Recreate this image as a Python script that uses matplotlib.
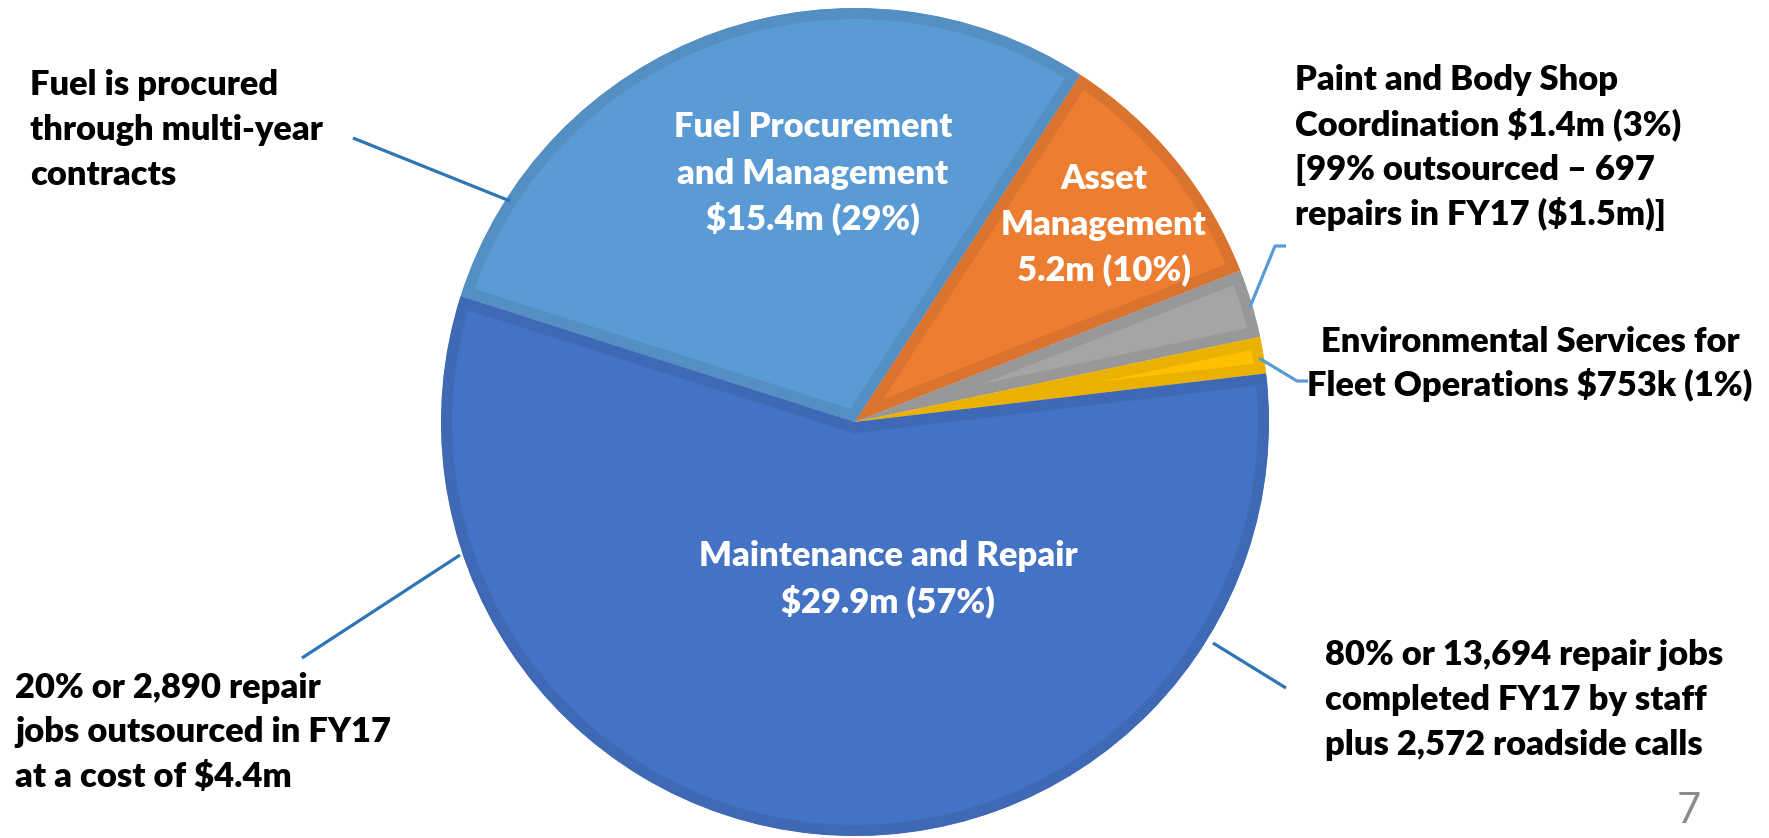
import matplotlib
matplotlib.use("Agg")
import matplotlib.pyplot as plt
from matplotlib.colors import to_rgb

# ---- data ----
categories = ["Fuel Procurement and Management", "Asset Management",
              "Paint and Body Shop Coordination",
              "Environmental Services for Fleet Operations",
              "Maintenance and Repair"]
values_musd = [15.4, 5.2, 1.4, 0.753, 29.9]
colors = ["#5B9BD5", "#ED7D31", "#A5A5A5", "#FFC000", "#4472C4"]

inner_labels = {
    0: ["Fuel Procurement", "and Management", "$15.4m (29%)"],
    1: ["Asset", "Management", "5.2m (10%)"],
    4: ["Maintenance and Repair", "$29.9m (57%)"],
}
note_fuel = ["Fuel is procured", "through multi-year", "contracts"]
note_paint = ["Paint and Body Shop", "Coordination $1.4m (3%)",
              "[99% outsourced \u2013 697", "repairs in FY17 ($1.5m)]"]
note_env = ["Environmental Services for", "Fleet Operations $753k (1%)"]
note_staff = ["80% or 13,694 repair jobs", "completed FY17 by staff",
              "plus 2,572 roadside calls"]
note_out = ["20% or 2,890 repair", "jobs outsourced in FY17",
            "at a cost of $4.4m"]
page_number = "7"

W, H = 1769, 838
FONT = ["Lato", "DejaVu Sans"]
FS = 24.8
WEIGHT = "heavy"

fig = plt.figure(figsize=(W / 100, H / 100), dpi=100)
ax = fig.add_axes([0, 0, 1, 1])


def Y(py):
    return H - py


def darker(c, f=0.9):
    r, g, b = to_rgb(c)
    return (r * f, g * f, b * f)


cx, cy, R = 855, Y(422), 414
wedges, _ = ax.pie(values_musd, colors=colors, startangle=162.3,
                   counterclock=False, center=(cx, cy), radius=R,
                   frame=True)
ax.set_xlim(0, W)
ax.set_ylim(0, H)
ax.set_aspect("equal")
ax.axis("off")
for w, c in zip(wedges, colors):
    w.set_edgecolor(darker(c, 0.92))
    w.set_linewidth(16)
    w.set_joinstyle("miter")
    w.set_clip_on(True)
    w.set_clip_path(w)


def lines(txts, x, ys, ha="left", color="black", **kw):
    for t, y in zip(txts, ys):
        ax.text(x, Y(y), t, ha=ha, va="baseline", color=color,
                fontsize=FS, fontweight=WEIGHT, family=FONT, **kw)


# inner labels
lines(inner_labels[0], 813, [137, 184, 229], ha="center", color="white")
lines(inner_labels[1], 1104, [189, 235, 280], ha="center", color="white")
lines(inner_labels[4], 888, [566, 612], ha="center", color="white")

# outside notes
lines(note_fuel, 30, [95, 140, 185])
lines(note_paint, 1295, [90, 135, 180, 225])
lines(note_env, 1530, [352, 396], ha="center")
lines(note_staff, 1325, [665, 710, 755])
lines(note_out, 15, [698, 742, 787])

ax.text(1701, Y(823), page_number, ha="right", va="baseline",
        color="#8C8C8C", fontsize=30, fontweight="normal", family=FONT)

# leader lines
dark_blue = "#2E75B6"
light_blue = "#5B9BD5"
ax.plot([353, 510], [Y(138), Y(201)], color=dark_blue, lw=2.3,
        solid_capstyle="butt")
ax.plot([302, 460], [Y(658), Y(555)], color=dark_blue, lw=2.3,
        solid_capstyle="butt")
ax.plot([1213, 1286], [Y(643), Y(688)], color=dark_blue, lw=2.3,
        solid_capstyle="butt")
ax.plot([1286, 1275, 1250], [Y(246), Y(246), Y(307)], color=light_blue,
        lw=2.3, solid_capstyle="butt")
ax.plot([1259, 1297, 1308], [Y(358), Y(381), Y(381)], color=light_blue,
        lw=2.3, solid_capstyle="butt")

fig.savefig("out.png", dpi=100)
